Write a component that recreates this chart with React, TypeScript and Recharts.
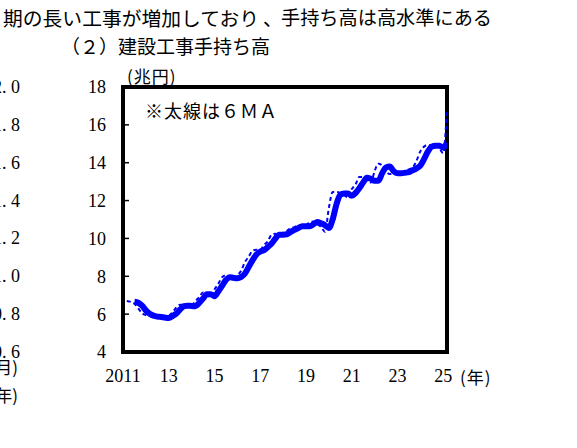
import React from 'react';
import { LineChart, Line, XAxis, YAxis, ReferenceArea } from 'recharts';

// ---- data (bimonthly) ----
const RAW_START = 2011 + 2 / 12; // Mar 2011
const MA_START = 2011 + 6 / 12; // Jul 2011
const STEP = 2 / 12;

const rawValues = [
  6.7, 6.65, 6.55, 6.3, 6.05,
  5.95, 5.9, 5.88, 5.85, 5.82, 5.78,
  5.9, 6.1, 6.35, 6.5, 6.5, 6.38,
  6.45, 6.7, 6.9, 7.15, 7.0, 6.9,
  7.3, 7.6, 7.95, 8.05, 7.95, 7.85,
  8.05, 8.3, 8.75, 9.05, 9.35, 9.4,
  9.4, 9.65, 9.85, 10.2, 10.25, 10.2,
  10.3, 10.4, 10.55, 10.6, 10.7, 10.65,
  10.7, 10.85, 10.9, 10.75, 10.6, 10.35,
  11.6, 12.45, 12.45, 12.4, 12.3, 12.15,
  12.6, 12.85, 13.25, 13.25, 13.05, 12.95,
  13.55, 13.95, 13.85, 13.55, 13.4, 13.45,
  13.45, 13.5, 13.55, 13.65, 13.75, 14.1,
  14.6, 14.85, 14.95, 14.9, 14.95, 14.75,
  14.5, 16.85,
];

const maValues = [
  6.65, 6.6, 6.45,
  6.2, 6.02, 5.92, 5.87, 5.85, 5.82,
  5.8, 5.9, 6.03, 6.25, 6.42, 6.45,
  6.43, 6.42, 6.6, 6.82, 7.05, 7.05,
  6.95, 7.2, 7.5, 7.8, 7.95, 7.92,
  7.9, 7.97, 8.15, 8.5, 8.85, 9.15,
  9.3, 9.38, 9.55, 9.73, 10.0, 10.2,
  10.2, 10.22, 10.35, 10.45, 10.55, 10.65,
  10.65, 10.65, 10.75, 10.87, 10.8, 10.7,
  10.55, 11.0, 11.8, 12.3, 12.38, 12.38,
  12.25, 12.4, 12.65, 12.95, 13.2, 13.15,
  13.05, 13.05, 13.45, 13.75, 13.8, 13.55,
  13.45, 13.45, 13.47, 13.5, 13.6, 13.7,
  13.85, 14.2, 14.6, 14.85, 14.9, 14.9,
  14.8, 15.05,
];

const xTicks = [2011, 2013, 2015, 2017, 2019, 2021, 2023, 2025];
const yTicks = [4, 6, 8, 10, 12, 14, 16, 18];
const X_MIN = 2011;
const X_MAX = RAW_START + STEP * (rawValues.length - 1);
const Y_MIN = 4;
const Y_MAX = 18;

const leftLabels = ['2. 0', '1. 8', '1. 6', '1. 4', '1. 2', '1. 0', '0. 8', '0. 6'];

const rawData = rawValues.map((v, i) => ({ x: RAW_START + STEP * i, raw: v }));
const maData = maValues.map((v, i) => ({ x: MA_START + STEP * i, ma: v }));

const SERIF = '"Liberation Serif", "DejaVu Serif", serif';
const JP = '"Noto Sans CJK JP", "Noto Sans", sans-serif';

const fmtX = (v: number) => (v === 2011 ? '2011' : String(v).slice(2));

export default function App() {
  return (
    <div style={{ position: 'absolute', left: 0, top: 0, width: 577, height: 448, overflow: 'hidden', background: '#fff' }}>
      <LineChart
        width={577}
        height={448}
        margin={{ top: 87, right: 130, bottom: 66, left: 83 }}
      >
        <XAxis
          type="number"
          dataKey="x"
          domain={[X_MIN, X_MAX]}
          ticks={xTicks}
          tickFormatter={fmtX}
          allowDataOverflow
          axisLine={false}
          tickLine={false}
          tickSize={0}
          tickMargin={17}
          height={30}
          tick={{ fontFamily: SERIF, fontSize: 18, fill: '#000' }}
        />
        <YAxis
          type="number"
          domain={[Y_MIN, Y_MAX]}
          ticks={yTicks}
          allowDataOverflow
          width={40}
          axisLine={false}
          tickSize={-6}
          tickMargin={23}
          tickLine={{ stroke: '#000', strokeWidth: 1.5 }}
          tick={{ fontFamily: SERIF, fontSize: 18, fill: '#000' }}
        />
        <Line
          data={rawData}
          dataKey="raw"
          type="monotone"
          stroke="#0000FF"
          strokeWidth={2}
          strokeDasharray="4 3"
          dot={false}
          isAnimationActive={false}
        />
        <Line
          data={maData}
          dataKey="ma"
          type="monotone"
          stroke="#0000FF"
          strokeWidth={6}
          dot={false}
          isAnimationActive={false}
        />
        <ReferenceArea
          x1={X_MIN}
          x2={X_MAX}
          y1={Y_MIN}
          y2={Y_MAX}
          fill="none"
          fillOpacity={0}
          stroke="#000"
          strokeWidth={4}
          ifOverflow="visible"
        />
      </LineChart>
      <svg
        width={577}
        height={448}
        style={{ position: 'absolute', left: 0, top: 0, pointerEvents: 'none' }}
      >
        <text x={3} y={17} dominantBaseline="central" fontFamily={JP} fontSize={19.8} fill="#000">
          期の長い工事が増加しており
        </text>
        <text x={263} y={17} dominantBaseline="central" fontFamily={JP} fontSize={19.5} fill="#000">
          、
        </text>
        <text x={281} y={17} dominantBaseline="central" fontFamily={JP} fontSize={19.2} fill="#000">
          手持ち高は高水準にある
        </text>
        <text x={61} y={45} dominantBaseline="central" fontFamily={JP} fontSize={19} fill="#000">
          （２）建設工事手持ち高
        </text>
        <text x={127} y={75} dominantBaseline="central" fontFamily={JP} fontSize={17} letterSpacing={1} fill="#000">
          (兆円)
        </text>
        <text x={145} y={110} dominantBaseline="central" fontFamily={JP} fontSize={18} letterSpacing={1} fill="#000">
          ※太線は６ＭＡ
        </text>
        <text x={460} y={376} dominantBaseline="central" fontFamily={JP} fontSize={17} letterSpacing={1} fill="#000">
          (年)
        </text>
        {leftLabels.map((t, i) => (
          <text
            key={t + i}
            x={20}
            y={87 + i * 37.86}
            dominantBaseline="central"
            textAnchor="end"
            fontFamily={SERIF}
            fontSize={18}
            fill="#000"
          >
            {t}
          </text>
        ))}
        <text x={18} y={366} dominantBaseline="central" textAnchor="end" fontFamily={JP} fontSize={17} fill="#000">
          月)
        </text>
        <text x={18} y={394} dominantBaseline="central" textAnchor="end" fontFamily={JP} fontSize={17} fill="#000">
          年)
        </text>
      </svg>
    </div>
  );
}
